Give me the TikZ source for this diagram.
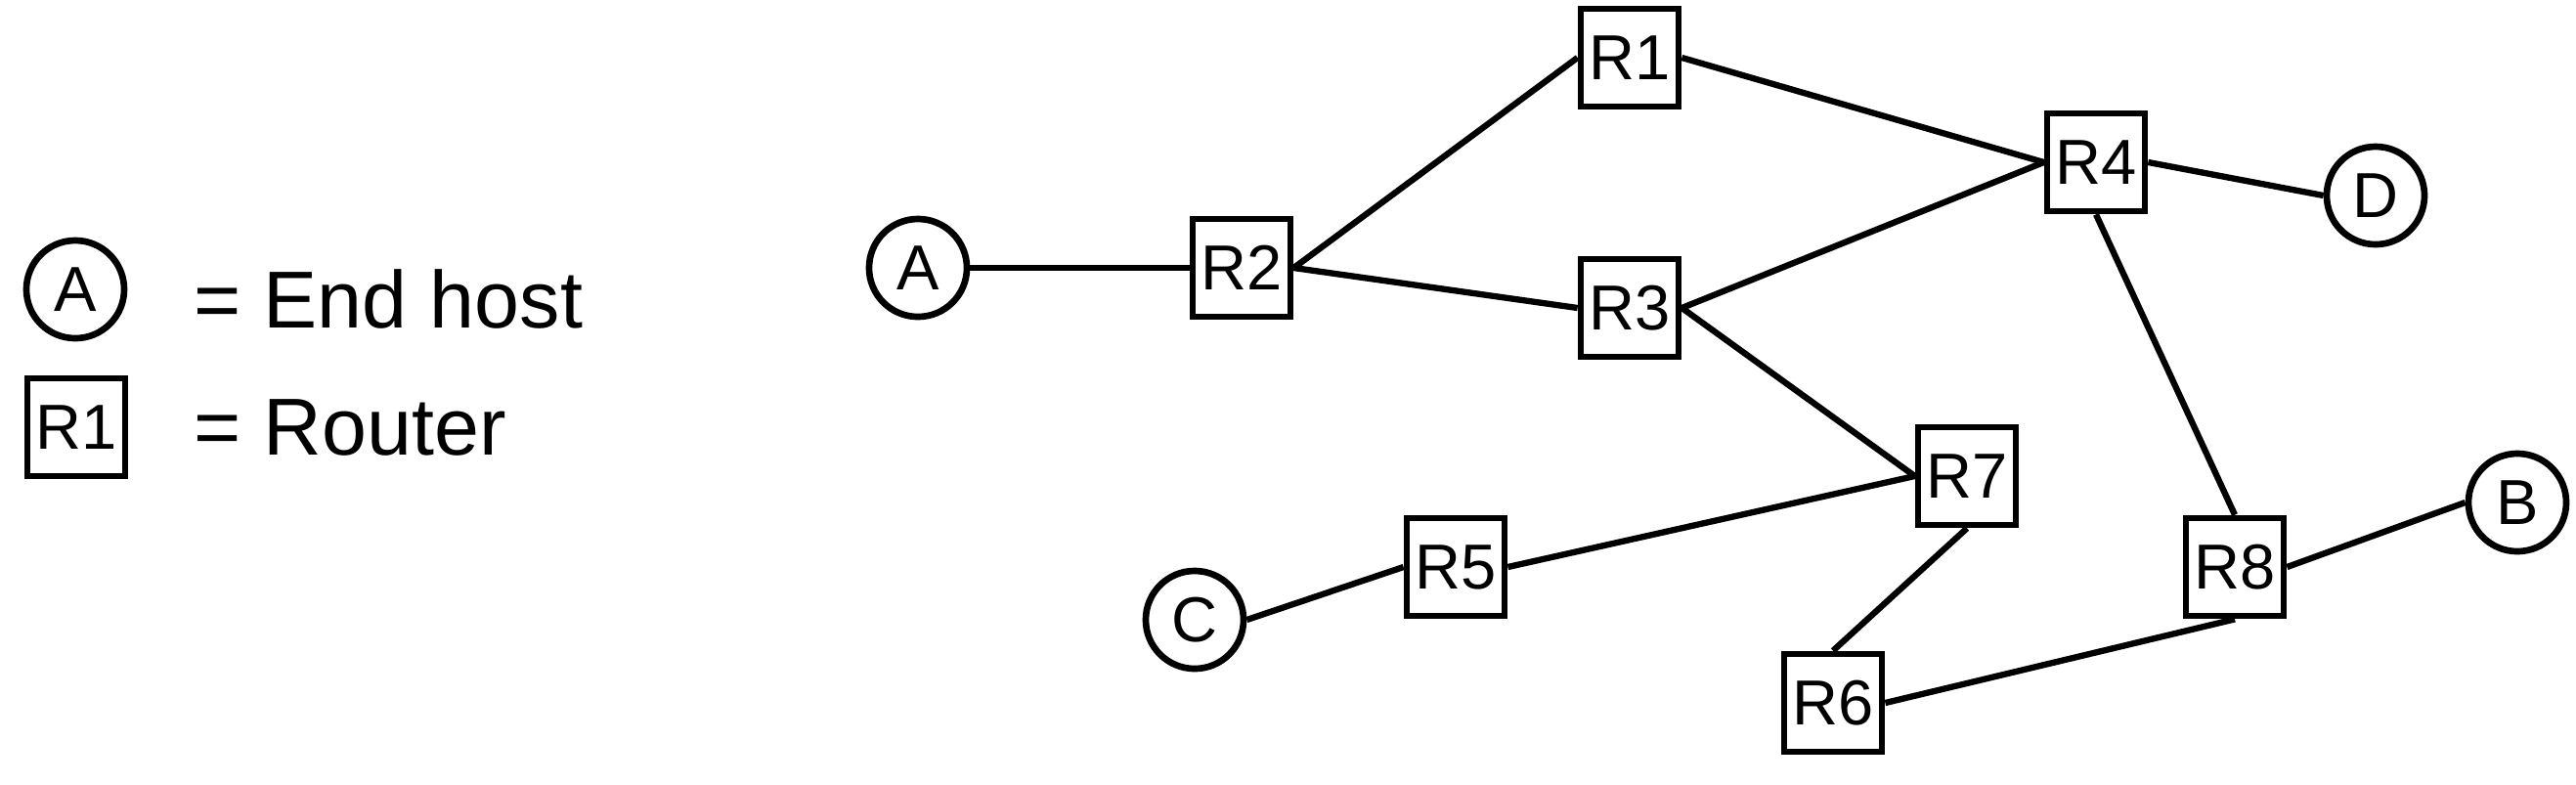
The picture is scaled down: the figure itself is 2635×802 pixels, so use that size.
\documentclass[tikz,border=0pt]{standalone}
\usepackage{fontspec}
\setmainfont{Liberation Sans}
\tikzset{
  host/.style={draw, circle, line width=1.9pt, minimum size=1cm, inner sep=0pt,
    font=\fontsize{18.5}{18.5}\selectfont},
  router/.style={draw, rectangle, line width=1.9pt, minimum size=1cm, inner sep=0pt,
    font=\fontsize{18.5}{18.5}\selectfont},
  link/.style={line width=1.8pt},
  keytext/.style={anchor=west, inner sep=0pt, font=\fontsize{23.5}{23.5}\selectfont}
}
\begin{document}
\begin{tikzpicture}[x=0.01cm,y=-0.01cm]
  \useasboundingbox (0,0) rectangle (2635,802);
  % legend
  \node[host] (hostkey) at (77,296) {A};
  \node[router] (routerkey) at (78,437) {R1};
  \node[keytext] (hosttext) at (198,306) {= End host};
  \node[keytext] (routertext) at (198,437) {= Router};
  % hosts
  \node[host] (A) at (939,274) {A};
  \node[host] (B) at (2575,514) {B};
  \node[host] (C) at (1222,634) {C};
  \node[host] (D) at (2430,200) {D};
  % routers
  \node[router] (R1) at (1667,59) {R1};
  \node[router] (R2) at (1270,274) {R2};
  \node[router] (R3) at (1667,315) {R3};
  \node[router] (R4) at (2144,166) {R4};
  \node[router] (R5) at (1489,580) {R5};
  \node[router] (R6) at (1875,719) {R6};
  \node[router] (R7) at (2012,487) {R7};
  \node[router] (R8) at (2286,580) {R8};
  % links
  \draw[link] (A) -- (R2);
  \draw[link] (R2.east) -- (R1.west);
  \draw[link] (R2.east) -- (R3.west);
  \draw[link] (R1.east) -- (R4.west);
  \draw[link] (R3.east) -- (R4.west);
  \draw[link] (R4.east) -- (D.west);
  \draw[link] (R3.east) -- (R7.west);
  \draw[link] (R4.south) -- (R8.north);
  \draw[link] (C.east) -- (R5.west);
  \draw[link] (R5.east) -- (R7.west);
  \draw[link] (R7.south) -- (R6.north);
  \draw[link] (R6.east) -- (R8.south);
  \draw[link] (R8.east) -- (B.west);
\end{tikzpicture}
\end{document}
